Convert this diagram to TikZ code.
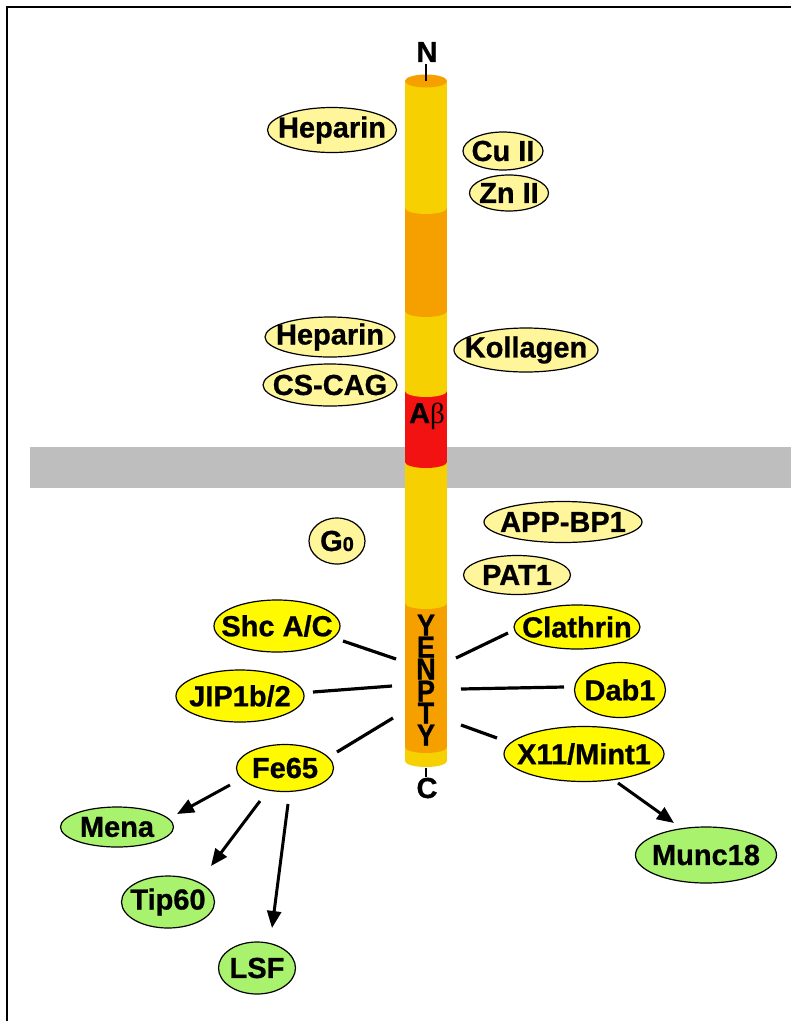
\documentclass[tikz,border=0pt]{standalone}
\usepackage{fontspec}
\setmainfont{Liberation Sans}[BoldFeatures={FakeBold=0.8}]
\newfontfamily\grk{Liberation Serif}
\usetikzlibrary{shapes.geometric,arrows.meta}
\definecolor{paleY}{HTML}{FFF69B}
\definecolor{brightY}{HTML}{FFFA00}
\definecolor{leaf}{HTML}{A8F26E}
\definecolor{cylY}{HTML}{F6D000}
\definecolor{cylO}{HTML}{F6A000}
\definecolor{cylR}{HTML}{F31212}
\definecolor{band}{HTML}{BEBEBE}
\tikzset{
  lbl/.style={font=\fontsize{29}{30}\selectfont\bfseries, text=black, inner sep=0pt},
  ell/.style n args={4}{ellipse, draw=black, line width=1.2pt, fill=#1,
     minimum width=#2pt, minimum height=#3pt, inner sep=0pt,
     label={[lbl]center:#4}},
  letter/.style={font=\fontsize{27}{27}\selectfont\bfseries, inner sep=0pt, text height=21pt, text depth=0pt},
  link/.style={line width=3.2pt, draw=black},
  arr/.style={line width=3pt, draw=black, -{Triangle[length=17pt,width=14pt]}},
}
\newcommand\cylseg[3]{%
  \fill[#1] (405,#2) rectangle (447,#3);
  \fill[#1] (405,#3) arc[start angle=180,end angle=360,x radius=21pt,y radius=6pt] -- cycle;
}
\newcommand\tallchar[1]{\scalebox{1}[1.12]{#1}}
\begin{document}
\begin{tikzpicture}[x=1pt,y=-1pt]
\useasboundingbox (0,0) rectangle (791,1021);
\fill[white] (0,0) rectangle (791,1021);
% frame
\draw[line width=2pt] (7,1021) -- (7,7) -- (791,7);
% membrane
\fill[band] (30,447) rectangle (791,488);
% cylinder, bottom to top
\cylseg{cylY}{747}{761}
\cylseg{cylO}{603}{747}
\cylseg{cylY}{462}{603}
\cylseg{cylR}{391}{462}
\cylseg{cylY}{311}{391}
\cylseg{cylO}{208}{311}
\cylseg{cylY}{81}{208}
\fill[cylO] (426,81) ellipse[x radius=21pt,y radius=6.5pt];
% termini
\node[lbl] (nterm) at (427,52) {N};
\node[lbl] (cterm) at (427,788) {C};
\coordinate (ntickA) at (426,64);
\coordinate (ntickB) at (426,81);
\coordinate (ctickA) at (426,768);
\coordinate (ctickB) at (426,777);
\draw[line width=2pt] (ntickA) -- (ntickB);
\draw[line width=2pt] (ctickA) -- (ctickB);
\node[lbl] (abeta) at (427,416) {A{\grk\mdseries β}};
% YENPTY motif
\node[letter] (m1) at (426,625) {\tallchar{Y}};
\node[letter] (m2) at (426,647) {\tallchar{E}};
\node[letter] (m3) at (426,669) {\tallchar{N}};
\node[letter] (m4) at (426,691) {\tallchar{P}};
\node[letter] (m5) at (426,713) {\tallchar{T}};
\node[letter] (m6) at (426,735) {\tallchar{Y}};
% pale binding partners
\node[ell={paleY}{129}{45}{Heparin}] (heparinA) at (332,130) {};
\node[ell={paleY}{80}{38}{Cu II}] (cuII) at (503,151) {};
\node[ell={paleY}{79}{36}{Zn II}] (znII) at (509,193) {};
\node[ell={paleY}{130}{40}{Heparin}] (heparinB) at (330,337) {};
\node[ell={paleY}{134}{42}{CS-CAG}] (cscag) at (330,385) {};
\node[ell={paleY}{144}{44}{Kollagen}] (kollagen) at (526,350) {};
\node[ell={paleY}{56}{46}{G{\fontsize{20}{20}\selectfont 0}}] (gzero) at (337,541) {};
\node[ell={paleY}{158}{41}{APP-BP1}] (appbp1) at (563,522) {};
\node[ell={paleY}{107}{39}{PAT1}] (pat1) at (517,575) {};
% YENPTY partners
\node[ell={brightY}{126}{52}{Shc A/C}] (shc) at (277,626) {};
\node[ell={brightY}{126}{44}{Clathrin}] (clathrin) at (577,627) {};
\node[ell={brightY}{128}{52}{JIP1b/2}] (jip) at (240,696) {};
\node[ell={brightY}{91}{55}{Dab1}] (dab1) at (620,690) {};
\node[ell={brightY}{97}{47}{Fe65}] (fe65) at (285,768) {};
\node[ell={brightY}{160}{55}{X11/Mint1}] (x11) at (584,754) {};
% downstream
\node[ell={leaf}{113}{40}{Mena}] (mena) at (117,827) {};
\node[ell={leaf}{93}{52}{Tip60}] (tip60) at (168,902) {};
\node[ell={leaf}{77}{52}{LSF}] (lsf) at (257,968) {};
\node[ell={leaf}{141}{56}{Munc18}] (munc18) at (706,855) {};
% link end points
\coordinate (s1) at (343,641); \coordinate (e1) at (396,659);
\coordinate (s2) at (508,633); \coordinate (e2) at (456,658);
\coordinate (s3) at (313,692); \coordinate (e3) at (392,686);
\coordinate (s4) at (564,687); \coordinate (e4) at (461,689);
\coordinate (s5) at (337,752); \coordinate (e5) at (393,718);
\coordinate (s6) at (497,738); \coordinate (e6) at (461,725);
\draw[link] (s1) -- (e1);
\draw[link] (s2) -- (e2);
\draw[link] (s3) -- (e3);
\draw[link] (s4) -- (e4);
\draw[link] (s5) -- (e5);
\draw[link] (s6) -- (e6);
% arrows
\coordinate (f1) at (230,785); \coordinate (t1) at (177,814);
\coordinate (f2) at (260,801); \coordinate (t2) at (211,866);
\coordinate (f3) at (288,804); \coordinate (t3) at (272,928);
\coordinate (f4) at (618,783); \coordinate (t4) at (674,823);
\draw[arr] (f1) -- (t1);
\draw[arr] (f2) -- (t2);
\draw[arr] (f3) -- (t3);
\draw[arr] (f4) -- (t4);
\end{tikzpicture}
\end{document}
